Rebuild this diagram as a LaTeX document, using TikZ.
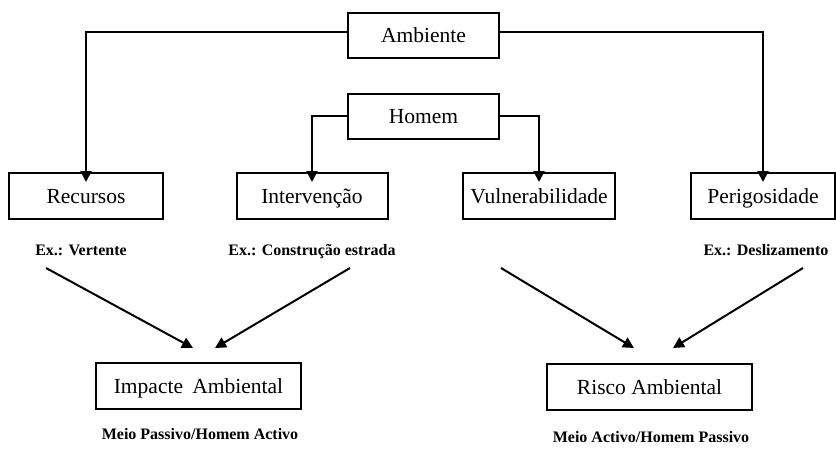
\documentclass[tikz,border=0pt]{standalone}
\usepackage{fontspec}
\setmainfont{Liberation Serif}
\usetikzlibrary{arrows.meta,calc}
\begin{document}
\begin{tikzpicture}[x=1pt,y=-1pt,
  box/.style={draw,line width=2pt,minimum height=45pt,inner sep=0pt,
    text height=18pt,text depth=3pt,
    font=\fontsize{21.5}{24}\selectfont},
  lbl/.style={font=\fontsize{16}{19}\selectfont\bfseries,inner sep=0pt,
    text height=12pt,text depth=2pt},
  arr/.style={line width=2pt,-{Triangle[width=11pt,length=11pt]}}]
\useasboundingbox[fill=white] (0,0) rectangle (836,450);
% top boxes
\node[box,minimum width=151pt] (amb) at (423.5,35) {Ambiente};
\node[box,minimum width=151pt] (hom) at (423.5,116) {Homem};
% second row
\node[box,minimum width=154pt,minimum height=46pt] (rec) at (86,196) {Recursos};
\node[box,minimum width=151pt,minimum height=46pt] (int) at (312,196) {Intervenção};
\node[box,minimum width=152pt,minimum height=46pt] (vul) at (539,196) {Vulnerabilidade};
\node[box,minimum width=144pt,minimum height=46pt] (per) at (763,196) {Perigosidade};
% labels
\node[lbl] (lrec) at (81,250) {Ex.: Vertente};
\node[lbl] (lint) at (312,250) {Ex.: Construção estrada};
\node[lbl] (lper) at (766,250) {Ex.: Deslizamento};
% bottom boxes
\node[box,minimum width=205pt,minimum height=46pt] (imp) at (198.5,386) {Impacte\hspace{4pt} Ambiental};
\node[box,minimum width=205pt,minimum height=46pt] (ris) at (649.5,387) {Risco Ambiental};
\node[lbl] (limp) at (200,434) {Meio Passivo/Homem Activo};
\node[lbl] (lris) at (651,437) {Meio Activo/Homem Passivo};
% connectors from top
\draw[arr] ([yshift=3pt]amb.west) -| ([yshift=-10pt]rec.north);
\draw[arr] ([yshift=3pt]amb.east) -| ([yshift=-10pt]per.north);
\draw[arr] (hom.west) -| ([yshift=-10pt]int.north);
\draw[arr] (hom.east) -| ([yshift=-10pt]vul.north);
% diagonal connectors
\coordinate (s1) at (46,268);
\coordinate (s2) at (350,268);
\coordinate (s3) at (501,268);
\coordinate (s4) at (803,268);
\coordinate (t1) at (193,348);
\coordinate (t2) at (215,348);
\coordinate (t3) at (634,348);
\coordinate (t4) at (673,348);
\draw[arr] (s1) -- (t1);
\draw[arr] (s2) -- (t2);
\draw[arr] (s3) -- (t3);
\draw[arr] (s4) -- (t4);
\end{tikzpicture}
\end{document}
